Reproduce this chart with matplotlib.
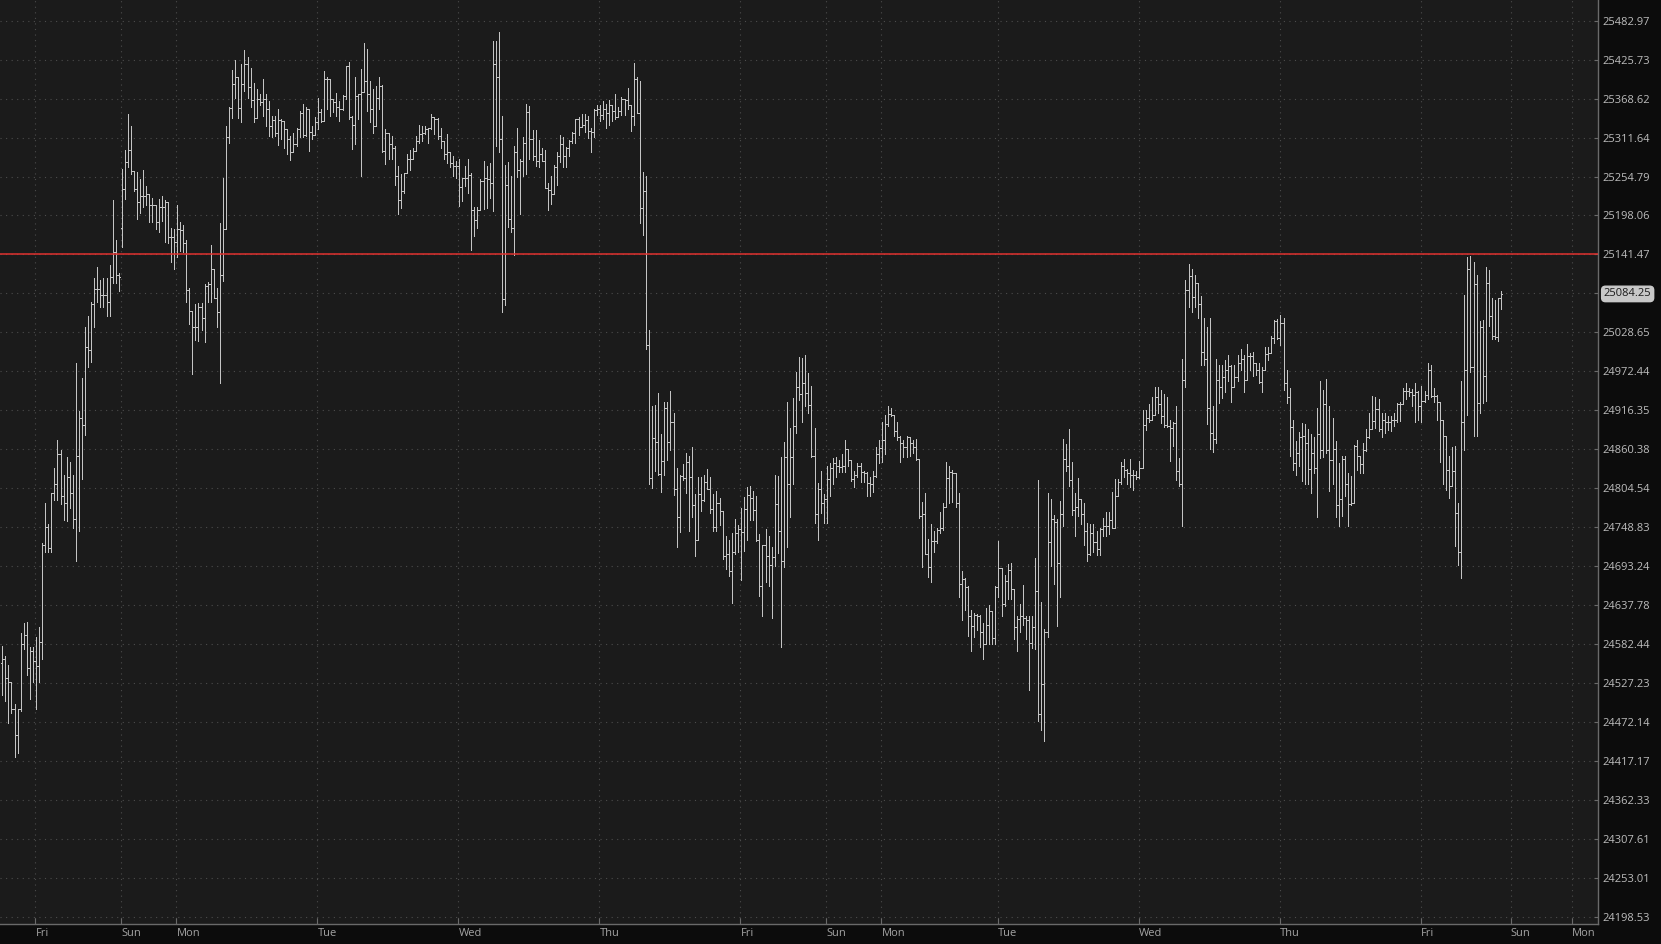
import matplotlib
matplotlib.use("Agg")
import matplotlib.pyplot as plt
from matplotlib.ticker import NullLocator, NullFormatter
import numpy as np

# 30-minute OHLC bars (oldest first)
opens = [
    24556, 24561, 24535, 24528, 24491, 24454, 24490, 24583, 24596, 24548,
    24573, 24558, 24552, 24585, 24723, 24749, 24719, 24797, 24811, 24854,
    24794, 24783, 24820, 24798, 24760, 24851, 24905, 24895, 25007, 25003,
    25070, 25091, 25091, 25083, 25083, 25072, 25109, 25145, 25112, 25180,
    25236, 25276, 25294, 25263, 25236, 25217, 25226, 25226, 25229, 25214,
    25213, 25188, 25211, 25211, 25217, 25167, 25167, 25159, 25179, 25177,
    25158, 25090, 25060, 25037, 25037, 25066, 25049, 25096, 25099, 25121,
    25079, 25058, 25112, 25179, 25312, 25355, 25390, 25400, 25355, 25390,
    25420, 25385, 25366, 25340, 25368, 25363, 25368, 25354, 25328, 25337,
    25319, 25337, 25336, 25324, 25309, 25291, 25302, 25324, 25347, 25315,
    25353, 25320, 25315, 25335, 25349, 25336, 25398, 25397, 25368, 25363,
    25357, 25354, 25372, 25417, 25341, 25330, 25373, 25375, 25378, 25395,
    25375, 25353, 25329, 25369, 25387, 25292, 25319, 25302, 25297, 25256,
    25221, 25234, 25260, 25280, 25280, 25292, 25307, 25317, 25319, 25324,
    25325, 25341, 25339, 25314, 25307, 25287, 25290, 25275, 25270, 25270,
    25239, 25252, 25252, 25257, 25206, 25192, 25206, 25248, 25253, 25251,
    25246, 25420, 25400, 25310, 25077, 25243, 25193, 25180, 25290, 25265,
    25278, 25303, 25349, 25310, 25285, 25278, 25288, 25278, 25238, 25235,
    25229, 25268, 25284, 25302, 25284, 25297, 25306, 25318, 25339, 25327,
    25330, 25337, 25321, 25320, 25352, 25353, 25345, 25354, 25348, 25359,
    25350, 25342, 25350, 25368, 25366, 25359, 25343, 25397, 25348, 25209,
    25233, 25011, 24819, 24877, 24871, 24825, 24843, 24920, 24871, 24900,
    24804, 24763, 24822, 24819, 24842, 24821, 24780, 24730, 24796, 24787,
    24813, 24804, 24775, 24749, 24783, 24772, 24708, 24711, 24686, 24714,
    24740, 24746, 24742, 24775, 24795, 24790, 24774, 24730, 24665, 24723,
    24708, 24695, 24707, 24782, 24743, 24700, 24849, 24811, 24850, 24894,
    24950, 24940, 24955, 24941, 24924, 24851, 24767, 24803, 24783, 24789,
    24818, 24834, 24841, 24836, 24835, 24836, 24861, 24845, 24818, 24824,
    24837, 24828, 24827, 24812, 24811, 24822, 24854, 24862, 24874, 24896,
    24911, 24910, 24886, 24878, 24869, 24864, 24878, 24870, 24864, 24846,
    24765, 24768, 24710, 24692, 24729, 24729, 24745, 24748, 24778, 24819,
    24828, 24826, 24784, 24668, 24675, 24664, 24623, 24608, 24624, 24623,
    24599, 24582, 24610, 24629, 24591, 24664, 24690, 24640, 24672, 24688,
    24661, 24607, 24618, 24623, 24620, 24617, 24584, 24606, 24658, 24484,
    24526, 24600, 24728, 24760, 24756, 24698, 24768, 24846, 24837, 24816,
    24774, 24777, 24789, 24767, 24744, 24710, 24740, 24727, 24718, 24746,
    24750, 24750, 24759, 24748, 24794, 24813, 24836, 24831, 24826, 24824,
    24823, 24821, 24834, 24895, 24905, 24903, 24910, 24935, 24925, 24908,
    24895, 24894, 24891, 24898, 24829, 24810, 24960, 25090, 25110, 25080,
    25100, 25070, 25000, 24990, 24920, 24884, 24875, 24960, 24950, 24965,
    24975, 24980, 24950, 24965, 24985, 24990, 24960, 24995, 24995, 24984,
    24974, 24957, 24975, 24997, 24999, 25020, 25045, 25021, 25042, 24955,
    24935, 24893, 24840, 24855, 24878, 24880, 24870, 24832, 24855, 24834,
    24883, 24859, 24926, 24860, 24845, 24861, 24780, 24789, 24846, 24810,
    24782, 24784, 24865, 24851, 24839, 24860, 24878, 24890, 24901, 24918,
    24890, 24903, 24900, 24900, 24903, 24903, 24925, 24926, 24944, 24944,
    24943, 24939, 24942, 24923, 24930, 24939, 24975, 24937, 24937, 24928,
    24902, 24879, 24831, 24808, 24829, 24769, 24714, 24900, 24974, 25120,
    24978, 25099, 24927, 25037, 24966, 25100, 25053, 25023, 25022, 25078,
]
highs = [
    24580, 24566, 24553, 24528, 24497, 24491, 24598, 24612, 24614, 24578,
    24579, 24592, 24606, 24726, 24783, 24754, 24798, 24833, 24873, 24860,
    24823, 24850, 24842, 24823, 24984, 24916, 24963, 25036, 25052, 25073,
    25108, 25123, 25104, 25108, 25108, 25126, 25221, 25163, 25115, 25266,
    25294, 25346, 25329, 25263, 25261, 25251, 25264, 25241, 25228, 25223,
    25214, 25222, 25227, 25220, 25201, 25180, 25179, 25214, 25189, 25184,
    25162, 25093, 25054, 25070, 25071, 25071, 25099, 25102, 25155, 25121,
    25093, 25187, 25253, 25329, 25357, 25410, 25425, 25400, 25420, 25440,
    25430, 25414, 25392, 25383, 25375, 25397, 25375, 25365, 25343, 25343,
    25353, 25339, 25336, 25324, 25314, 25319, 25326, 25351, 25361, 25356,
    25353, 25329, 25341, 25370, 25353, 25409, 25400, 25397, 25368, 25377,
    25365, 25374, 25417, 25423, 25343, 25400, 25375, 25412, 25450, 25441,
    25395, 25383, 25387, 25400, 25388, 25324, 25319, 25314, 25300, 25270,
    25258, 25260, 25287, 25294, 25297, 25314, 25330, 25329, 25329, 25326,
    25346, 25341, 25340, 25326, 25307, 25317, 25290, 25285, 25278, 25280,
    25253, 25270, 25280, 25260, 25210, 25210, 25251, 25278, 25270, 25275,
    25453, 25453, 25466, 25343, 25272, 25276, 25256, 25300, 25326, 25281,
    25312, 25361, 25358, 25323, 25323, 25308, 25297, 25294, 25246, 25255,
    25272, 25290, 25316, 25312, 25298, 25308, 25320, 25339, 25342, 25346,
    25346, 25343, 25326, 25354, 25359, 25359, 25365, 25361, 25366, 25359,
    25376, 25356, 25371, 25368, 25384, 25359, 25421, 25401, 25394, 25261,
    25255, 25032, 24922, 24924, 24941, 24883, 24929, 24928, 24944, 24912,
    24834, 24823, 24839, 24855, 24851, 24864, 24796, 24820, 24820, 24824,
    24832, 24820, 24796, 24801, 24790, 24770, 24736, 24730, 24741, 24761,
    24752, 24776, 24792, 24806, 24808, 24800, 24794, 24739, 24724, 24746,
    24736, 24720, 24824, 24822, 24850, 24871, 24928, 24891, 24934, 24971,
    24993, 24992, 24996, 24970, 24951, 24891, 24812, 24829, 24796, 24836,
    24840, 24848, 24850, 24845, 24853, 24873, 24861, 24838, 24829, 24840,
    24841, 24829, 24828, 24821, 24829, 24864, 24874, 24900, 24909, 24922,
    24920, 24910, 24900, 24880, 24874, 24879, 24878, 24874, 24875, 24846,
    24785, 24798, 24732, 24754, 24743, 24748, 24770, 24783, 24842, 24836,
    24830, 24827, 24797, 24686, 24676, 24665, 24631, 24626, 24625, 24624,
    24612, 24634, 24638, 24630, 24665, 24729, 24690, 24680, 24696, 24698,
    24661, 24623, 24639, 24667, 24622, 24623, 24622, 24705, 24817, 24642,
    24604, 24797, 24789, 24766, 24761, 24786, 24875, 24868, 24889, 24842,
    24797, 24819, 24789, 24784, 24755, 24754, 24754, 24743, 24748, 24762,
    24771, 24771, 24799, 24818, 24818, 24842, 24846, 24832, 24846, 24830,
    24829, 24843, 24917, 24917, 24926, 24935, 24950, 24950, 24945, 24940,
    24935, 24903, 24900, 24922, 24848, 24990, 25104, 25127, 25120, 25112,
    25097, 25081, 25050, 25036, 25050, 24922, 24990, 24982, 24982, 24989,
    24996, 24982, 24982, 24996, 25004, 24996, 25012, 24999, 25001, 24984,
    24984, 24978, 25008, 25007, 25023, 25047, 25048, 25054, 25050, 24974,
    24949, 24903, 24872, 24885, 24898, 24896, 24889, 24882, 24878, 24920,
    24959, 24946, 24961, 24923, 24906, 24872, 24840, 24851, 24851, 24826,
    24822, 24866, 24873, 24851, 24869, 24890, 24913, 24937, 24936, 24933,
    24913, 24912, 24908, 24908, 24913, 24927, 24928, 24948, 24956, 24949,
    24947, 24955, 24944, 24951, 24944, 24985, 24981, 24949, 24939, 24928,
    24902, 24879, 24851, 24864, 24865, 24784, 24959, 25083, 25138, 25139,
    25131, 25111, 25045, 25047, 25123, 25119, 25078, 25076, 25078, 25088,
]
lows = [
    24510, 24502, 24471, 24485, 24423, 24429, 24487, 24576, 24539, 24505,
    24529, 24490, 24529, 24561, 24714, 24713, 24713, 24788, 24788, 24782,
    24759, 24757, 24776, 24748, 24700, 24744, 24818, 24881, 24978, 24986,
    25037, 25072, 25066, 25066, 25052, 25052, 25100, 25100, 25089, 25152,
    25222, 25269, 25259, 25233, 25193, 25201, 25211, 25214, 25188, 25188,
    25178, 25174, 25190, 25159, 25158, 25130, 25121, 25138, 25147, 25145,
    25073, 25041, 24968, 25017, 25016, 25032, 25015, 25072, 25073, 25078,
    25037, 24955, 25103, 25178, 25304, 25340, 25370, 25340, 25335, 25380,
    25370, 25356, 25334, 25340, 25359, 25343, 25329, 25314, 25312, 25314,
    25301, 25309, 25297, 25287, 25279, 25291, 25300, 25313, 25313, 25314,
    25292, 25309, 25315, 25324, 25334, 25336, 25354, 25343, 25349, 25343,
    25336, 25352, 25368, 25339, 25295, 25302, 25339, 25256, 25378, 25351,
    25334, 25319, 25329, 25353, 25290, 25273, 25280, 25280, 25243, 25200,
    25209, 25231, 25260, 25265, 25280, 25292, 25304, 25307, 25317, 25304,
    25324, 25317, 25309, 25297, 25280, 25275, 25268, 25256, 25253, 25212,
    25219, 25241, 25231, 25148, 25168, 25180, 25206, 25207, 25209, 25224,
    25204, 25300, 25291, 25058, 25068, 25181, 25174, 25141, 25254, 25200,
    25255, 25258, 25281, 25279, 25270, 25268, 25277, 25238, 25206, 25215,
    25229, 25242, 25276, 25268, 25269, 25284, 25303, 25303, 25316, 25327,
    25320, 25311, 25291, 25312, 25345, 25336, 25339, 25326, 25330, 25336,
    25339, 25342, 25345, 25345, 25353, 25321, 25330, 25348, 25187, 25169,
    25005, 24810, 24805, 24829, 24823, 24799, 24823, 24845, 24860, 24795,
    24720, 24742, 24817, 24797, 24744, 24763, 24708, 24730, 24772, 24786,
    24803, 24769, 24744, 24744, 24752, 24704, 24689, 24679, 24641, 24710,
    24713, 24674, 24715, 24731, 24759, 24759, 24729, 24651, 24623, 24670,
    24665, 24620, 24694, 24712, 24578, 24692, 24721, 24764, 24810, 24884,
    24931, 24900, 24922, 24912, 24849, 24755, 24731, 24769, 24755, 24755,
    24793, 24810, 24821, 24828, 24828, 24828, 24837, 24815, 24807, 24821,
    24813, 24813, 24793, 24793, 24799, 24821, 24841, 24842, 24853, 24894,
    24908, 24879, 24873, 24842, 24850, 24850, 24851, 24855, 24845, 24762,
    24692, 24710, 24678, 24670, 24713, 24726, 24740, 24745, 24778, 24783,
    24785, 24778, 24650, 24617, 24631, 24594, 24572, 24593, 24603, 24579,
    24561, 24582, 24583, 24582, 24582, 24650, 24623, 24636, 24646, 24646,
    24589, 24572, 24599, 24609, 24590, 24517, 24577, 24575, 24474, 24461,
    24446, 24592, 24694, 24668, 24608, 24649, 24751, 24829, 24808, 24766,
    24736, 24765, 24754, 24723, 24701, 24709, 24713, 24709, 24709, 24736,
    24736, 24739, 24747, 24784, 24793, 24810, 24821, 24810, 24807, 24802,
    24818, 24819, 24834, 24888, 24899, 24903, 24910, 24913, 24898, 24893,
    24893, 24843, 24865, 24817, 24808, 24751, 24950, 25066, 25058, 25066,
    25050, 24981, 24981, 24897, 24861, 24856, 24870, 24927, 24934, 24943,
    24959, 24928, 24951, 24959, 24974, 24943, 24974, 24975, 24966, 24967,
    24955, 24942, 24975, 24989, 24999, 25014, 25019, 25011, 24946, 24927,
    24851, 24831, 24824, 24836, 24815, 24810, 24810, 24797, 24827, 24763,
    24848, 24850, 24855, 24800, 24810, 24764, 24750, 24765, 24794, 24751,
    24781, 24784, 24831, 24827, 24827, 24858, 24877, 24890, 24891, 24887,
    24878, 24884, 24888, 24887, 24894, 24900, 24901, 24926, 24932, 24937,
    24923, 24899, 24903, 24899, 24928, 24933, 24935, 24928, 24903, 24842,
    24811, 24802, 24791, 24808, 24722, 24695, 24677, 24859, 24909, 24971,
    24879, 24879, 24913, 24927, 24930, 25038, 25019, 25019, 25016, 25063,
]
closes = [
    24561, 24535, 24528, 24491, 24454, 24490, 24583, 24596, 24548, 24573,
    24558, 24552, 24585, 24723, 24749, 24719, 24797, 24811, 24854, 24794,
    24783, 24820, 24798, 24760, 24851, 24905, 24895, 25007, 25003, 25070,
    25091, 25091, 25083, 25083, 25072, 25109, 25145, 25112, 25109, 25236,
    25276, 25294, 25263, 25236, 25217, 25226, 25226, 25229, 25214, 25213,
    25188, 25211, 25211, 25217, 25167, 25167, 25159, 25179, 25177, 25158,
    25090, 25060, 25037, 25037, 25066, 25049, 25096, 25099, 25121, 25079,
    25058, 25112, 25179, 25312, 25355, 25390, 25400, 25355, 25390, 25420,
    25385, 25366, 25340, 25368, 25363, 25368, 25354, 25328, 25337, 25319,
    25337, 25336, 25324, 25309, 25291, 25302, 25324, 25347, 25315, 25353,
    25320, 25315, 25335, 25349, 25336, 25398, 25397, 25368, 25363, 25357,
    25354, 25372, 25417, 25341, 25330, 25373, 25375, 25378, 25395, 25375,
    25353, 25329, 25369, 25387, 25292, 25319, 25302, 25297, 25256, 25221,
    25234, 25260, 25280, 25280, 25292, 25307, 25317, 25319, 25324, 25325,
    25341, 25339, 25314, 25307, 25287, 25290, 25275, 25270, 25270, 25239,
    25252, 25252, 25257, 25206, 25192, 25206, 25248, 25253, 25251, 25246,
    25420, 25400, 25310, 25077, 25243, 25193, 25180, 25290, 25265, 25278,
    25303, 25349, 25310, 25285, 25278, 25288, 25278, 25238, 25235, 25229,
    25268, 25284, 25302, 25284, 25297, 25306, 25318, 25339, 25327, 25330,
    25337, 25321, 25320, 25352, 25353, 25345, 25354, 25348, 25359, 25350,
    25342, 25350, 25368, 25366, 25359, 25343, 25397, 25348, 25209, 25233,
    25011, 24819, 24877, 24871, 24825, 24843, 24920, 24871, 24900, 24804,
    24763, 24822, 24819, 24842, 24821, 24780, 24730, 24796, 24787, 24813,
    24804, 24775, 24749, 24783, 24772, 24708, 24711, 24686, 24714, 24740,
    24746, 24742, 24775, 24795, 24790, 24774, 24730, 24665, 24723, 24708,
    24695, 24707, 24782, 24743, 24700, 24849, 24811, 24850, 24894, 24950,
    24940, 24955, 24941, 24924, 24851, 24767, 24803, 24783, 24789, 24818,
    24834, 24841, 24836, 24835, 24836, 24861, 24845, 24818, 24824, 24837,
    24828, 24827, 24812, 24811, 24822, 24854, 24862, 24874, 24896, 24911,
    24910, 24886, 24878, 24869, 24864, 24878, 24870, 24864, 24846, 24765,
    24768, 24710, 24692, 24729, 24729, 24745, 24748, 24778, 24819, 24828,
    24826, 24784, 24668, 24675, 24664, 24623, 24608, 24624, 24623, 24599,
    24582, 24610, 24629, 24591, 24664, 24690, 24640, 24672, 24688, 24661,
    24607, 24618, 24623, 24620, 24617, 24584, 24606, 24658, 24484, 24526,
    24600, 24728, 24760, 24756, 24698, 24768, 24846, 24837, 24816, 24774,
    24777, 24789, 24767, 24744, 24710, 24740, 24727, 24718, 24746, 24750,
    24750, 24759, 24748, 24794, 24813, 24836, 24831, 24826, 24824, 24823,
    24821, 24834, 24895, 24905, 24903, 24910, 24935, 24925, 24908, 24895,
    24894, 24891, 24898, 24829, 24810, 24960, 25090, 25110, 25080, 25100,
    25070, 25000, 24990, 24920, 24884, 24875, 24960, 24950, 24965, 24975,
    24980, 24950, 24965, 24985, 24990, 24960, 24995, 24995, 24984, 24974,
    24957, 24975, 24997, 24999, 25020, 25045, 25021, 25042, 24955, 24935,
    24893, 24840, 24855, 24878, 24880, 24870, 24832, 24855, 24834, 24883,
    24859, 24926, 24860, 24845, 24861, 24780, 24789, 24846, 24810, 24782,
    24784, 24865, 24851, 24839, 24860, 24878, 24890, 24901, 24918, 24890,
    24903, 24900, 24900, 24903, 24903, 24925, 24926, 24944, 24944, 24943,
    24939, 24942, 24923, 24930, 24939, 24975, 24937, 24937, 24928, 24902,
    24879, 24831, 24808, 24829, 24769, 24714, 24900, 24974, 25120, 24978,
    25099, 24927, 25037, 24966, 25100, 25053, 25023, 25022, 25078, 25084.25,
]

# bars per session: Thu evening, Fri, Sun, Mon .. Fri
session_lengths = [11, 28, 18, 46, 46, 46, 46, 28, 18, 38, 46, 46, 46, 27]
session_days = ["", "Fri", "Sun", "Mon", "Tue", "Wed", "Thu",
                "Fri", "Sun", "Mon", "Tue", "Wed", "Thu", "Fri"]
future_days = ["Sun", "Mon"]
future_pos = [492.2, 512.0]

price_ticks = [25482.97, 25425.73, 25368.62, 25311.64, 25254.79, 25198.06,
               25141.47, 25084.99, 25028.65, 24972.44, 24916.35, 24860.38,
               24804.54, 24748.83, 24693.24, 24637.78, 24582.44, 24527.23,
               24472.14, 24417.17, 24362.33, 24307.61, 24253.01, 24198.53]
price_labels = ["25482.97", "25425.73", "25368.62", "25311.64", "25254.79",
                "25198.06", "25141.47", "", "25028.65", "24972.44",
                "24916.35", "24860.38", "24804.54", "24748.83", "24693.24",
                "24637.78", "24582.44", "24527.23", "24472.14", "24417.17",
                "24362.33", "24307.61", "24253.01", "24198.53"]
level_price = 25141.5
last_price = 25084.25

BG_OUT = "#0c0c0c"
BG_PLOT = "#1b1b1b"
GRID = "#4c4c4c"
BAR = "#c4c4c4"
SPINE = "#6a6a6a"
TXT = "#bdbdbd"
DAYTXT = "#a3a3a3"
RED = "#e0322f"

plt.rcParams["font.family"] = ["Open Sans", "DejaVu Sans"]

W, H = 1661, 944
fig = plt.figure(figsize=(W / 100, H / 100), dpi=100, facecolor=BG_OUT)
ax = fig.add_axes([0, 20 / H, 1598 / W, 924 / H])
ax.set_facecolor(BG_PLOT)

x = np.arange(len(closes))
o = np.array(opens, dtype=float)
h = np.array(highs, dtype=float)
l = np.array(lows, dtype=float)
c = np.array(closes, dtype=float)
top = np.maximum(h, np.maximum(o, c))
bot = np.minimum(l, np.minimum(o, c))

ax.set_yscale("log")
ax.set_ylim(24188.5, 25513.4)
ax.set_xlim(-0.75, 520.6)

starts = np.cumsum([0] + session_lengths)
day_pos = list(starts[1:len(session_lengths)] - 0.2) + future_pos
day_lbl = session_days[1:] + future_days

ax.set_xticks(day_pos)
ax.set_xticklabels(day_lbl, ha="left")
ax.set_yticks(price_ticks)
ax.set_yticklabels(price_labels)
ax.yaxis.set_minor_locator(NullLocator())
ax.yaxis.set_minor_formatter(NullFormatter())
ax.yaxis.tick_right()
ax.grid(True, color=GRID, linestyle=(0, (1, 4)), linewidth=0.8)
ax.set_axisbelow(True)

ax.tick_params(axis="y", direction="in", length=3, width=0.8, color=SPINE,
               labelsize=8, labelcolor=TXT, pad=3)
ax.tick_params(axis="x", direction="in", length=4, width=0.8, color=SPINE,
               labelsize=8, labelcolor=DAYTXT, pad=3)

for side in ["top", "left"]:
    ax.spines[side].set_visible(False)
for side in ["right", "bottom"]:
    ax.spines[side].set_color(SPINE)
    ax.spines[side].set_linewidth(1.0)

# OHLC bars: thin 1 px stems with short open/close ticks
lw = 0.72
ax.vlines(x, bot, top, colors=BAR, linewidth=lw, antialiased=False, zorder=3)
ax.hlines(o, x - 0.34, x, colors=BAR, linewidth=lw, antialiased=False, zorder=3)
ax.hlines(c, x, x + 0.34, colors=BAR, linewidth=lw, antialiased=False, zorder=3)

ax.axhline(level_price, color=RED, linewidth=1.1, zorder=4)

ax.annotate(f"{last_price:.2f}", xy=(1, last_price),
            xycoords=("axes fraction", "data"), xytext=(4.2, 0),
            textcoords="offset points", va="center", ha="left",
            fontsize=8, color="#1a1a1a", annotation_clip=False,
            bbox=dict(boxstyle="round,pad=0.2,rounding_size=0.35",
                      fc="#c8c8c8", ec="#c8c8c8"))

fig.savefig("out.png", dpi=100, facecolor=BG_OUT)
